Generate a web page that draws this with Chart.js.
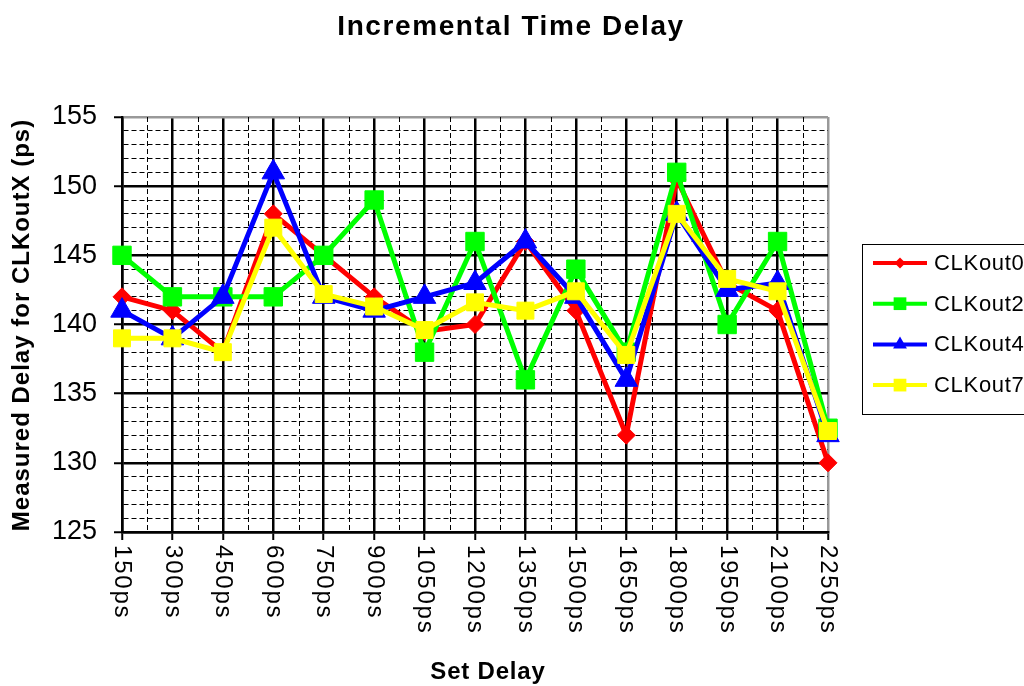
<!DOCTYPE html>
<html>
<head>
<meta charset="utf-8">
<title>Incremental Time Delay</title>
<script src="https://cdn.jsdelivr.net/npm/chart.js@4.4.1/dist/chart.umd.min.js"></script>
<style>
  html, body { margin: 0; padding: 0; background: #fff; }
  #wrap { width: 1024px; height: 686px; position: relative; }
</style>
</head>
<body>
<div id="wrap"><canvas id="delayChart"></canvas></div>
<script>
// Data
const setDelays = ["150ps", "300ps", "450ps", "600ps", "750ps", "900ps", "1050ps", "1200ps",
  "1350ps", "1500ps", "1650ps", "1800ps", "1950ps", "2100ps", "2250ps"];
const clkOut0 = [142, 141, 138, 148, 145, 142, 139.5, 140, 146, 141, 132, 150.5, 143, 141, 130];
const clkOut2 = [145, 142, 142, 142, 145, 149, 138, 146, 136, 144, 138, 151, 140, 146, 132.5];
const clkOut4 = [141, 139, 142, 151, 142, 141, 142, 143, 146, 142, 136, 148, 142.5, 143, 132];
const clkOut7 = [139, 139, 138, 147, 142.2, 141.3, 139.6, 141.6, 141, 142.4, 137.8, 148, 143.3, 142.4, 132.3];
const seriesNames = ["CLKout0", "CLKout2", "CLKout4", "CLKout7"];
const yMin = 125;
const yMax = 155;

const FONT = "'Liberation Sans', Arial, Helvetica, sans-serif";
Chart.defaults.font.family = FONT;
Chart.defaults.color = "#000";

const colors = ["#ff0000", "#00ff00", "#0000ff", "#ffff00"];
const markers = [
  { style: "rectRot", radius: 9, legend: 5.5 },
  { style: "rect", radius: 13, legend: 9 },
  { style: "triangle", radius: 13, legend: 8 },
  { style: "rect", radius: 12, legend: 9 }
];

function makeDataset(i, values) {
  return {
    label: seriesNames[i],
    data: values,
    borderColor: colors[i],
    backgroundColor: colors[i],
    borderWidth: 5,
    pointStyle: markers[i].style,
    pointRadius: markers[i].radius,
    pointHoverRadius: markers[i].radius,
    pointBorderWidth: 1,
    pointBackgroundColor: colors[i],
    pointBorderColor: colors[i],
    tension: 0,
    clip: false,
    order: 4 - i
  };
}

// small marker for the hand drawn legend
function legendMarker(ctx, style, x, y, r) {
  ctx.beginPath();
  if (style === "rectRot") {
    ctx.moveTo(x - r, y); ctx.lineTo(x, y - r); ctx.lineTo(x + r, y); ctx.lineTo(x, y + r);
  } else if (style === "triangle") {
    ctx.moveTo(x, y - r); ctx.lineTo(x + r * 0.866, y + r * 0.5); ctx.lineTo(x - r * 0.866, y + r * 0.5);
  } else {
    const h = r * 0.707;
    ctx.rect(x - h, y - h, 2 * h, 2 * h);
  }
  ctx.closePath();
  ctx.fill();
}

const decorations = {
  id: "decorations",
  beforeDatasetsDraw(chart) {
    // dashed vertical lines halfway between categories
    const { ctx, chartArea, scales: { x } } = chart;
    ctx.save();
    ctx.strokeStyle = "#000";
    ctx.lineWidth = 1;
    ctx.setLineDash([5, 3]);
    for (let i = 0; i < setDelays.length - 1; i++) {
      const px = Math.round((x.getPixelForValue(i) + x.getPixelForValue(i + 1)) / 2) + 0.5;
      ctx.beginPath();
      ctx.moveTo(px, chartArea.top);
      ctx.lineTo(px, chartArea.bottom);
      ctx.stroke();
    }
    ctx.restore();
  },
  afterDraw(chart) {
    const { ctx, chartArea, scales: { x } } = chart;
    ctx.save();
    ctx.fillStyle = "#000";
    ctx.textAlign = "center";
    ctx.textBaseline = "middle";

    ctx.font = "bold 28px " + FONT;
    ctx.letterSpacing = "1.6px";
    ctx.fillText("Incremental Time Delay", 511, 27);

    ctx.font = "bold 24px " + FONT;
    ctx.letterSpacing = "0.8px";
    ctx.fillText("Set Delay", 488, 672);

    ctx.save();
    ctx.translate(22, 325);
    ctx.rotate(-Math.PI / 2);
    ctx.letterSpacing = "1px";
    ctx.fillText("Measured Delay for CLKoutX (ps)", 0, 0);
    ctx.restore();

    // category labels, reading top to bottom
    ctx.font = "24px " + FONT;
    ctx.letterSpacing = "1.8px";
    ctx.textAlign = "left";
    setDelays.forEach((lab, i) => {
      ctx.save();
      ctx.translate(x.getPixelForValue(i), chartArea.bottom + 13);
      ctx.rotate(Math.PI / 2);
      ctx.fillText(lab, 0, 0);
      ctx.restore();
    });

    // legend box
    ctx.strokeStyle = "#000";
    ctx.lineWidth = 1;
    ctx.strokeRect(862.5, 244.5, 200, 170);
    ctx.font = "22px " + FONT;
    ctx.letterSpacing = "0.7px";
    seriesNames.forEach((name, i) => {
      const ly = 263 + i * 40.7;
      ctx.strokeStyle = colors[i];
      ctx.fillStyle = colors[i];
      ctx.lineWidth = 4;
      ctx.beginPath();
      ctx.moveTo(873, ly);
      ctx.lineTo(927, ly);
      ctx.stroke();
      legendMarker(ctx, markers[i].style, 900, ly, markers[i].legend);
      ctx.fillStyle = "#000";
      ctx.fillText(name, 934, ly + 1);
    });
    ctx.restore();
  }
};

const chart = new Chart(document.getElementById("delayChart"), {
  type: "line",
  data: {
    labels: setDelays,
    datasets: [
      makeDataset(0, clkOut0),
      makeDataset(1, clkOut2),
      makeDataset(2, clkOut4),
      makeDataset(3, clkOut7)
    ]
  },
  options: {
    responsive: true,
    maintainAspectRatio: false,
    animation: false,
    layout: { padding: { top: 117, right: 196, bottom: 0, left: 0 } },
    plugins: {
      legend: { display: false },
      title: { display: false },
      tooltip: { enabled: false }
    },
    scales: {
      x: {
        offset: false,
        afterFit(scale) { scale.height = 154; },
        ticks: { display: false, autoSkip: false },
        grid: {
          color: (c) => (c.index === setDelays.length - 1 ? "#999" : "#000"),
          lineWidth: 2.5,
          tickLength: 8,
          tickColor: "#000",
          tickWidth: 2
        },
        border: { display: true, color: "#000", width: 2.5 }
      },
      y: {
        min: yMin,
        max: yMax,
        afterFit(scale) { scale.width = 122; },
        ticks: {
          stepSize: 1,
          autoSkip: false,
          padding: 17,
          font: { size: 27 },
          color: "#000",
          callback: (v) => (v % 5 === 0 ? v : "")
        },
        grid: {
          color: (c) => (c.tick && c.tick.value === yMax ? "#999" : "#000"),
          lineWidth: (c) => (c.tick && c.tick.value % 5 === 0 ? 2.5 : 1),
          tickLength: 8,
          tickColor: (c) => (c.tick && c.tick.value % 5 === 0 ? "#000" : "rgba(0,0,0,0)"),
          tickWidth: 2
        },
        border: {
          display: true,
          color: "#000",
          width: 2.5,
          dash: (c) => (c.tick && c.tick.value % 5 === 0 ? [] : [5, 3])
        }
      }
    }
  },
  plugins: [decorations]
});
</script>
</body>
</html>
